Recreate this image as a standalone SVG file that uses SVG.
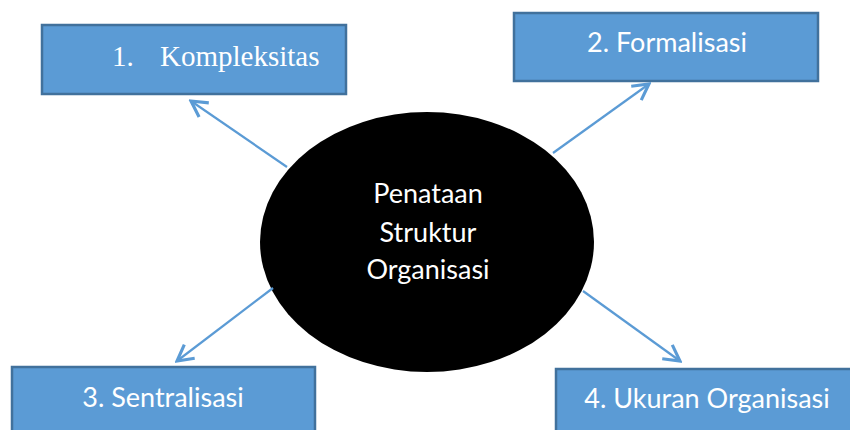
<svg xmlns="http://www.w3.org/2000/svg" width="850" height="430" viewBox="0 0 850 430">
<defs>
<style>
.box{fill:#5b9bd5;stroke:#41719c;stroke-width:2.5}
.lbl{fill:#ffffff;font-family:Lato,"Open Sans",sans-serif;font-size:27px;text-anchor:middle}
.ser{fill:#ffffff;font-family:"Liberation Serif","Times New Roman",serif;font-size:29px}
.ctr{fill:#ffffff;font-family:Lato,"Open Sans",sans-serif;font-size:27px;text-anchor:middle}
.con{stroke:#5b9bd5;stroke-width:2.2;fill:none;marker-end:url(#arr)}
</style>
<marker id="arr" markerWidth="20" markerHeight="20" refX="12" refY="7" orient="auto" markerUnits="userSpaceOnUse" viewBox="0 0 14 14">
<path d="M1,1 L12,7 L1,13" fill="none" stroke="#5b9bd5" stroke-width="2.2"/>
</marker>
</defs>
<rect width="850" height="430" fill="#ffffff"/>
<g id="center">
<ellipse cx="427" cy="242" rx="167" ry="130" fill="#000000"/>
<text class="ctr" x="428" y="203">Penataan</text>
<text class="ctr" x="428" y="242">Struktur</text>
<text class="ctr" x="428" y="279">Organisasi</text>
</g>
<g id="n1">
<rect class="box" x="42" y="25" width="304" height="69"/>
<text class="ser" x="112" y="66">1.</text>
<text class="ser" x="160" y="66">Kompleksitas</text>
</g>
<g id="n2">
<rect class="box" x="514" y="13" width="304" height="68"/>
<text class="lbl" x="667" y="52">2. Formalisasi</text>
</g>
<g id="n3">
<rect class="box" x="12" y="367" width="303" height="70"/>
<text class="lbl" x="163" y="407">3. Sentralisasi</text>
</g>
<g id="n4">
<rect class="box" x="556" y="369" width="300" height="70"/>
<text class="lbl" x="707" y="408">4. Ukuran Organisasi</text>
</g>
<g id="connectors">
<line class="con" x1="287" y1="167" x2="191" y2="101"/>
<line class="con" x1="553" y1="153" x2="649" y2="84"/>
<line class="con" x1="273" y1="288" x2="177" y2="361"/>
<line class="con" x1="583" y1="291" x2="680" y2="361"/>
</g>
</svg>
